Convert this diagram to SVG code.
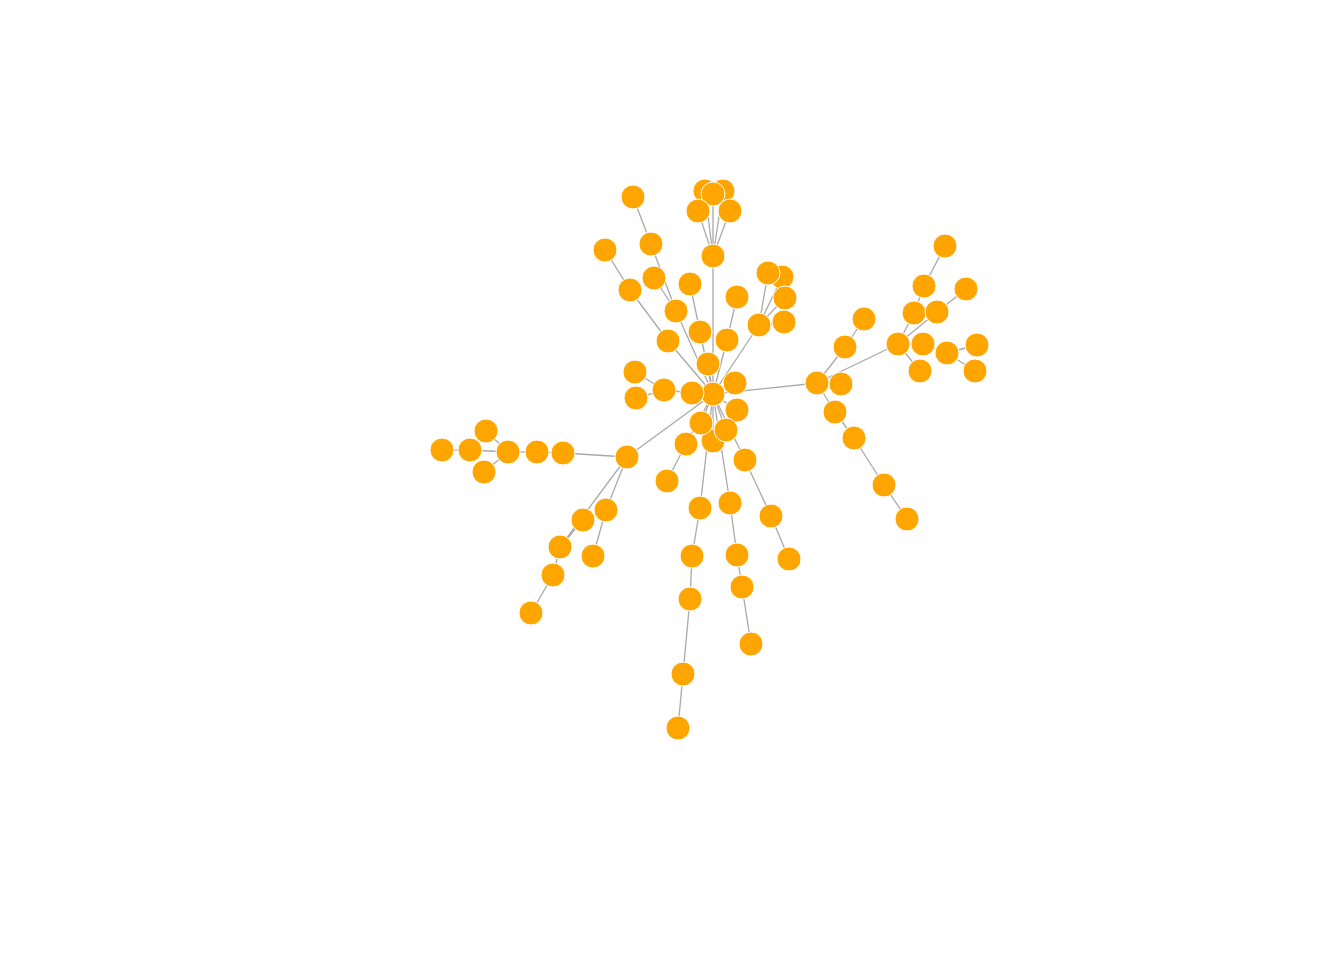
<svg xmlns="http://www.w3.org/2000/svg" width="1344" height="960" viewBox="0 0 1344 960">
<style>
.e line{stroke:#A9A9A9;stroke-width:1.3;fill:none}
.n circle{fill:#FFA500;stroke:#FFFFFF;stroke-width:1;r:12}
</style>
<rect width="1344" height="960" fill="#FFFFFF"/>
<g id="edges" class="e">
<line x1="713" y1="394" x2="735" y2="383"/>
<line x1="713" y1="394" x2="737" y2="410"/>
<line x1="713" y1="394" x2="726" y2="430"/>
<line x1="713" y1="394" x2="713" y2="441"/>
<line x1="713" y1="394" x2="701" y2="423"/>
<line x1="713" y1="394" x2="692" y2="393"/>
<line x1="713" y1="394" x2="708" y2="364"/>
<line x1="713" y1="394" x2="686" y2="444"/>
<line x1="713" y1="394" x2="668" y2="341"/>
<line x1="713" y1="394" x2="700" y2="332"/>
<line x1="713" y1="394" x2="727" y2="340"/>
<line x1="713" y1="394" x2="713" y2="256"/>
<line x1="713" y1="394" x2="676" y2="311"/>
<line x1="713" y1="394" x2="759" y2="325"/>
<line x1="713" y1="394" x2="817" y2="383"/>
<line x1="713" y1="394" x2="627" y2="457"/>
<line x1="713" y1="394" x2="700" y2="508"/>
<line x1="713" y1="394" x2="730" y2="503"/>
<line x1="713" y1="394" x2="745" y2="460"/>
<line x1="692" y1="393" x2="664" y2="390"/>
<line x1="664" y1="390" x2="635" y2="372"/>
<line x1="664" y1="390" x2="636" y2="398"/>
<line x1="713" y1="256" x2="698" y2="211"/>
<line x1="713" y1="256" x2="730" y2="211"/>
<line x1="713" y1="256" x2="713" y2="194"/>
<line x1="713" y1="256" x2="705" y2="191"/>
<line x1="713" y1="256" x2="723" y2="191"/>
<line x1="633" y1="197" x2="651" y2="244"/>
<line x1="651" y1="244" x2="676" y2="311"/>
<line x1="654" y1="278" x2="676" y2="311"/>
<line x1="605" y1="250" x2="630" y2="290"/>
<line x1="630" y1="290" x2="668" y2="341"/>
<line x1="690" y1="284" x2="700" y2="332"/>
<line x1="737" y1="297" x2="727" y2="340"/>
<line x1="759" y1="325" x2="768" y2="273"/>
<line x1="759" y1="325" x2="782" y2="277"/>
<line x1="759" y1="325" x2="785" y2="298"/>
<line x1="759" y1="325" x2="784" y2="323"/>
<line x1="817" y1="383" x2="841" y2="384"/>
<line x1="817" y1="383" x2="845" y2="347"/>
<line x1="845" y1="347" x2="864" y2="319"/>
<line x1="817" y1="383" x2="835" y2="412"/>
<line x1="835" y1="412" x2="854" y2="438"/>
<line x1="854" y1="438" x2="884" y2="485"/>
<line x1="884" y1="485" x2="907" y2="519"/>
<line x1="817" y1="383" x2="898" y2="344"/>
<line x1="898" y1="344" x2="914" y2="313"/>
<line x1="914" y1="313" x2="924" y2="286"/>
<line x1="924" y1="286" x2="945" y2="246"/>
<line x1="898" y1="344" x2="937" y2="312"/>
<line x1="937" y1="312" x2="966" y2="289"/>
<line x1="898" y1="344" x2="923" y2="344"/>
<line x1="898" y1="344" x2="920" y2="371"/>
<line x1="923" y1="344" x2="947" y2="353"/>
<line x1="947" y1="353" x2="977" y2="345"/>
<line x1="947" y1="353" x2="975" y2="371"/>
<line x1="627" y1="457" x2="563" y2="453"/>
<line x1="563" y1="453" x2="537" y2="452"/>
<line x1="537" y1="452" x2="508" y2="452"/>
<line x1="508" y1="452" x2="486" y2="431"/>
<line x1="508" y1="452" x2="484" y2="472"/>
<line x1="508" y1="452" x2="470" y2="450"/>
<line x1="470" y1="450" x2="442" y2="450"/>
<line x1="627" y1="457" x2="560" y2="547"/>
<line x1="583" y1="520" x2="560" y2="547"/>
<line x1="627" y1="457" x2="606" y2="510"/>
<line x1="606" y1="510" x2="593" y2="556"/>
<line x1="560" y1="547" x2="553" y2="575"/>
<line x1="553" y1="575" x2="531" y2="613"/>
<line x1="686" y1="444" x2="667" y2="481"/>
<line x1="700" y1="508" x2="692" y2="556"/>
<line x1="692" y1="556" x2="690" y2="599"/>
<line x1="690" y1="599" x2="683" y2="674"/>
<line x1="683" y1="674" x2="678" y2="728"/>
<line x1="730" y1="503" x2="737" y2="555"/>
<line x1="737" y1="555" x2="742" y2="587"/>
<line x1="742" y1="587" x2="751" y2="644"/>
<line x1="745" y1="460" x2="771" y2="516"/>
<line x1="771" y1="516" x2="789" y2="559"/>
</g>
<g class="n">
<g id="n1"><circle cx="713" cy="394" r="12"/></g>
<g id="n2"><circle cx="735" cy="383" r="12"/></g>
<g id="n3"><circle cx="737" cy="410" r="12"/></g>
<g id="n4"><circle cx="713" cy="441" r="12"/></g>
<g id="n5"><circle cx="726" cy="430" r="12"/></g>
<g id="n6"><circle cx="701" cy="423" r="12"/></g>
<g id="n7"><circle cx="692" cy="393" r="12"/></g>
<g id="n8"><circle cx="708" cy="364" r="12"/></g>
<g id="n9"><circle cx="686" cy="444" r="12"/></g>
<g id="n10"><circle cx="668" cy="341" r="12"/></g>
<g id="n11"><circle cx="700" cy="332" r="12"/></g>
<g id="n12"><circle cx="727" cy="340" r="12"/></g>
<g id="n13"><circle cx="664" cy="390" r="12"/></g>
<g id="n14"><circle cx="635" cy="372" r="12"/></g>
<g id="n15"><circle cx="636" cy="398" r="12"/></g>
<g id="n16"><circle cx="713" cy="256" r="12"/></g>
<g id="n17"><circle cx="705" cy="191" r="12"/></g>
<g id="n18"><circle cx="723" cy="191" r="12"/></g>
<g id="n19"><circle cx="713" cy="194" r="12"/></g>
<g id="n20"><circle cx="698" cy="211" r="12"/></g>
<g id="n21"><circle cx="730" cy="211" r="12"/></g>
<g id="n22"><circle cx="633" cy="197" r="12"/></g>
<g id="n23"><circle cx="651" cy="244" r="12"/></g>
<g id="n24"><circle cx="654" cy="278" r="12"/></g>
<g id="n25"><circle cx="676" cy="311" r="12"/></g>
<g id="n26"><circle cx="605" cy="250" r="12"/></g>
<g id="n27"><circle cx="630" cy="290" r="12"/></g>
<g id="n28"><circle cx="690" cy="284" r="12"/></g>
<g id="n29"><circle cx="737" cy="297" r="12"/></g>
<g id="n30"><circle cx="782" cy="277" r="12"/></g>
<g id="n31"><circle cx="768" cy="273" r="12"/></g>
<g id="n32"><circle cx="785" cy="298" r="12"/></g>
<g id="n33"><circle cx="784" cy="322" r="12"/></g>
<g id="n34"><circle cx="759" cy="325" r="12"/></g>
<g id="n35"><circle cx="817" cy="383" r="12"/></g>
<g id="n36"><circle cx="841" cy="384" r="12"/></g>
<g id="n37"><circle cx="845" cy="347" r="12"/></g>
<g id="n38"><circle cx="864" cy="319" r="12"/></g>
<g id="n39"><circle cx="835" cy="412" r="12"/></g>
<g id="n40"><circle cx="854" cy="438" r="12"/></g>
<g id="n41"><circle cx="884" cy="485" r="12"/></g>
<g id="n42"><circle cx="907" cy="519" r="12"/></g>
<g id="n43"><circle cx="898" cy="344" r="12"/></g>
<g id="n44"><circle cx="914" cy="313" r="12"/></g>
<g id="n45"><circle cx="924" cy="286" r="12"/></g>
<g id="n46"><circle cx="945" cy="246" r="12"/></g>
<g id="n47"><circle cx="937" cy="312" r="12"/></g>
<g id="n48"><circle cx="966" cy="289" r="12"/></g>
<g id="n49"><circle cx="923" cy="344" r="12"/></g>
<g id="n50"><circle cx="920" cy="371" r="12"/></g>
<g id="n51"><circle cx="947" cy="353" r="12"/></g>
<g id="n52"><circle cx="977" cy="345" r="12"/></g>
<g id="n53"><circle cx="975" cy="371" r="12"/></g>
<g id="n54"><circle cx="627" cy="457" r="12"/></g>
<g id="n55"><circle cx="563" cy="453" r="12"/></g>
<g id="n56"><circle cx="537" cy="452" r="12"/></g>
<g id="n57"><circle cx="508" cy="452" r="12"/></g>
<g id="n58"><circle cx="486" cy="431" r="12"/></g>
<g id="n59"><circle cx="484" cy="472" r="12"/></g>
<g id="n60"><circle cx="470" cy="450" r="12"/></g>
<g id="n61"><circle cx="442" cy="450" r="12"/></g>
<g id="n62"><circle cx="583" cy="520" r="12"/></g>
<g id="n63"><circle cx="606" cy="510" r="12"/></g>
<g id="n64"><circle cx="560" cy="547" r="12"/></g>
<g id="n65"><circle cx="553" cy="575" r="12"/></g>
<g id="n66"><circle cx="531" cy="613" r="12"/></g>
<g id="n67"><circle cx="593" cy="556" r="12"/></g>
<g id="n68"><circle cx="667" cy="481" r="12"/></g>
<g id="n69"><circle cx="700" cy="508" r="12"/></g>
<g id="n70"><circle cx="692" cy="556" r="12"/></g>
<g id="n71"><circle cx="690" cy="599" r="12"/></g>
<g id="n72"><circle cx="683" cy="674" r="12"/></g>
<g id="n73"><circle cx="678" cy="728" r="12"/></g>
<g id="n74"><circle cx="730" cy="503" r="12"/></g>
<g id="n75"><circle cx="737" cy="555" r="12"/></g>
<g id="n76"><circle cx="742" cy="587" r="12"/></g>
<g id="n77"><circle cx="751" cy="644" r="12"/></g>
<g id="n78"><circle cx="745" cy="460" r="12"/></g>
<g id="n79"><circle cx="771" cy="516" r="12"/></g>
<g id="n80"><circle cx="789" cy="559" r="12"/></g>
</g>
</svg>
